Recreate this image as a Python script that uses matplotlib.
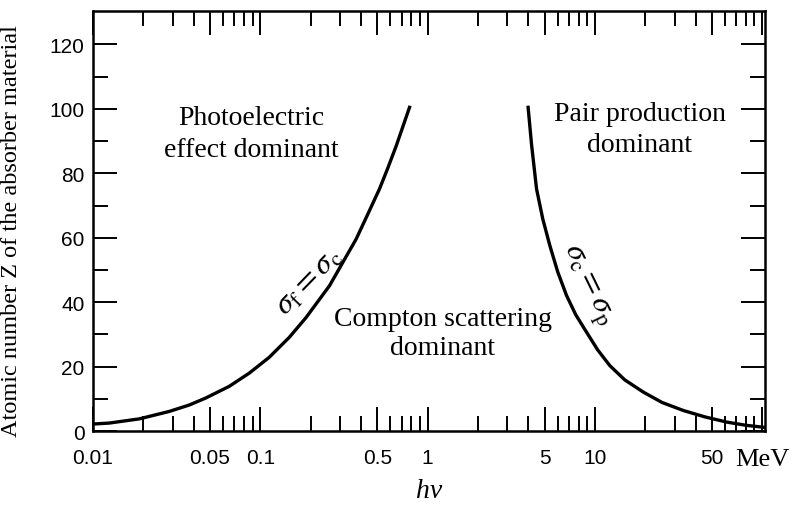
import numpy as np
import matplotlib
matplotlib.use("Agg")
import matplotlib.pyplot as plt
from matplotlib.ticker import FixedLocator, NullFormatter

# boundary sigma_f = sigma_c (photoelectric / Compton), hv in MeV vs Z
pe_energy = [0.01, 0.0125, 0.0189, 0.0285, 0.0376, 0.0473, 0.0652, 0.0859,
             0.113, 0.149, 0.188, 0.259, 0.310, 0.374, 0.437, 0.516, 0.576,
             0.650, 0.780]
pe_z = [2.2, 2.5, 3.8, 6.1, 8.1, 10.3, 13.9, 18.0,
        22.9, 29.1, 35.3, 45.1, 52.2, 59.6, 67.1, 75.2, 81.4,
        88.6, 100.5]

# boundary sigma_c = sigma_p (Compton / pair production)
pp_energy = [3.99, 4.18, 4.48, 4.88, 5.38, 6.00, 6.77, 7.69, 8.92, 10.4,
             12.3, 15.1, 19.5, 25.2, 33.8, 45.6, 61.5, 80.2, 104]
pp_z = [100.5, 89.1, 75.2, 65.9, 57.6, 49.4, 42.1, 36.1, 30.7, 25.2,
        20.3, 15.9, 12.1, 8.9, 6.4, 4.4, 2.8, 1.8, 1.15]

x_major = [0.01, 0.05, 0.1, 0.5, 1, 5, 10, 50, 100]
x_labels = ["0.01", "0.05", "0.1", "0.5", "1", "5", "10", "50", "MeV"]
y_major = [0, 20, 40, 60, 80, 100, 120]

SERIF = "Liberation Serif"
SANS = "Liberation Sans"


def main():
    plt.rcParams["mathtext.fontset"] = "stix"
    fig = plt.figure(figsize=(8.09, 5.06), dpi=100)
    ax = fig.add_axes([0.115, 0.146, 0.8306, 0.8303])

    ax.plot(pe_energy, pe_z, color="black", lw=2.4, solid_joinstyle="round")
    ax.plot(pp_energy, pp_z, color="black", lw=2.4, solid_joinstyle="round")

    ax.set_xscale("log")
    ax.set_xlim(0.01, 104)
    ax.set_ylim(0, 130.4)

    ax.xaxis.set_major_locator(FixedLocator(x_major))
    minors = [m * 10.0 ** d for d in range(-2, 2) for m in (2, 3, 4, 6, 7, 8, 9)]
    ax.xaxis.set_minor_locator(FixedLocator(minors))
    ax.xaxis.set_minor_formatter(NullFormatter())
    ax.set_xticklabels(x_labels)
    ax.yaxis.set_major_locator(FixedLocator(y_major))
    ax.yaxis.set_minor_locator(FixedLocator(list(range(10, 130, 20))))

    ax.tick_params(which="major", direction="in", length=17, width=1.4,
                   top=True, right=True, labelsize=15)
    ax.tick_params(which="minor", direction="in", length=11, width=1.4,
                   top=True, right=True)
    ax.tick_params(axis="x", which="major", pad=12)
    ax.tick_params(axis="y", which="major", pad=6)
    for lab in ax.get_xticklabels() + ax.get_yticklabels():
        lab.set_fontfamily(SANS)
    ax.get_xticklabels()[-1].set_fontfamily(SERIF)
    ax.get_xticklabels()[-1].set_fontsize(19)

    for s in ax.spines.values():
        s.set_linewidth(1.8)

    ax.set_ylabel("Atomic number Z of the absorber material", family=SERIF,
                  fontsize=17.5)
    ax.yaxis.set_label_coords(-0.106, 0.479)
    ax.set_xlabel("hv", family=SERIF, style="italic", fontsize=20, labelpad=6)

    ax.text(0.0883, 101.2, "Photoelectric\neffect dominant", family=SERIF,
            fontsize=20, ha="center", va="top", linespacing=1.35)
    ax.text(18.6, 102.6, "Pair production\ndominant", family=SERIF,
            fontsize=20, ha="center", va="top", linespacing=1.35)
    ax.text(1.23, 38.8, "Compton scattering\ndominant", family=SERIF,
            fontsize=20, ha="center", va="top", linespacing=1.2)

    ax.text(0.194, 47, r"$\sigma_{\rm f} = \sigma_{\rm c}$", fontsize=23,
            rotation=46, ha="center", va="center")
    ax.text(9.0, 45.7, r"$\sigma_{\rm c} = \sigma_{\rm p}$", fontsize=23,
            rotation=-64, ha="center", va="center")

    fig.savefig("out.png", dpi=100)


if __name__ == "__main__":
    main()
